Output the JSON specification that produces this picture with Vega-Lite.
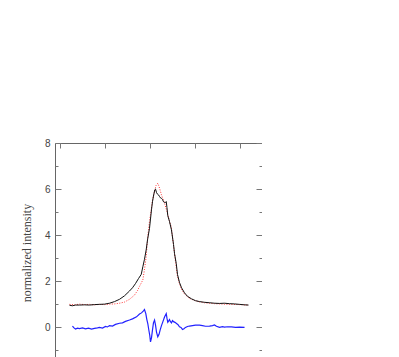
{
  "$schema": "https://vega.github.io/schema/vega-lite/v6.json",
  "autosize": "none",
  "padding": {"left": 55, "top": 143, "right": 0, "bottom": 0},
  "width": 207,
  "height": 219,
  "background": "white",
  "config": {
    "view": {"stroke": "#666", "strokeWidth": 1},
    "axis": {"grid": false, "domain": false, "tickColor": "#777", "labelColor": "#444", "labelFont": "Liberation Sans", "labelFontSize": 10, "titleFont": "Liberation Serif", "titleFontWeight": "normal", "titleFontSize": 12, "titleColor": "#444"}
  },
  "datasets": {
    "observed": [
      {"v": -889, "y": 0.96}, {"v": -856, "y": 0.94}, {"v": -822, "y": 0.97}, {"v": -778, "y": 0.97}, {"v": -722, "y": 0.98},
      {"v": -667, "y": 0.97}, {"v": -611, "y": 0.99}, {"v": -556, "y": 1.0}, {"v": -500, "y": 1.01}, {"v": -444, "y": 1.05},
      {"v": -389, "y": 1.12}, {"v": -333, "y": 1.22}, {"v": -278, "y": 1.37}, {"v": -222, "y": 1.58}, {"v": -189, "y": 1.72},
      {"v": -156, "y": 1.9}, {"v": -122, "y": 2.12}, {"v": -92, "y": 2.3}, {"v": -74, "y": 2.63}, {"v": -56, "y": 2.95},
      {"v": -37, "y": 3.36}, {"v": -22, "y": 3.8}, {"v": 0, "y": 4.3}, {"v": 11, "y": 4.7}, {"v": 22, "y": 5.1},
      {"v": 33, "y": 5.45}, {"v": 44, "y": 5.7}, {"v": 59, "y": 5.97}, {"v": 67, "y": 6.0}, {"v": 78, "y": 5.85},
      {"v": 89, "y": 5.78}, {"v": 100, "y": 5.75}, {"v": 111, "y": 5.68}, {"v": 122, "y": 5.62}, {"v": 133, "y": 5.6},
      {"v": 144, "y": 5.55}, {"v": 156, "y": 5.45}, {"v": 167, "y": 5.42}, {"v": 178, "y": 5.42}, {"v": 186, "y": 5.46},
      {"v": 194, "y": 5.2}, {"v": 203, "y": 4.85}, {"v": 222, "y": 4.6}, {"v": 244, "y": 4.23}, {"v": 267, "y": 3.6},
      {"v": 278, "y": 3.2}, {"v": 297, "y": 2.78}, {"v": 311, "y": 2.3}, {"v": 333, "y": 1.95}, {"v": 356, "y": 1.72},
      {"v": 389, "y": 1.5}, {"v": 422, "y": 1.35}, {"v": 467, "y": 1.24}, {"v": 511, "y": 1.16}, {"v": 556, "y": 1.12},
      {"v": 611, "y": 1.09}, {"v": 667, "y": 1.07}, {"v": 722, "y": 1.05}, {"v": 778, "y": 1.04}, {"v": 833, "y": 1.05},
      {"v": 889, "y": 1.03}, {"v": 944, "y": 1.02}, {"v": 1000, "y": 1.0}, {"v": 1056, "y": 0.98}, {"v": 1100, "y": 0.97}
    ],
    "model": [
      {"v": -889, "y": 1.0}, {"v": -833, "y": 0.98}, {"v": -778, "y": 1.01}, {"v": -722, "y": 0.99}, {"v": -667, "y": 1.0},
      {"v": -611, "y": 0.98}, {"v": -556, "y": 1.0}, {"v": -500, "y": 0.99}, {"v": -444, "y": 1.01}, {"v": -389, "y": 1.02},
      {"v": -333, "y": 1.05}, {"v": -278, "y": 1.1}, {"v": -222, "y": 1.22}, {"v": -167, "y": 1.4}, {"v": -133, "y": 1.6},
      {"v": -111, "y": 1.78}, {"v": -74, "y": 2.06}, {"v": -56, "y": 2.5}, {"v": -37, "y": 3.07}, {"v": -19, "y": 3.94},
      {"v": 0, "y": 4.6}, {"v": 19, "y": 5.1}, {"v": 33, "y": 5.5}, {"v": 56, "y": 5.9}, {"v": 72, "y": 6.15},
      {"v": 92, "y": 6.26}, {"v": 111, "y": 6.05}, {"v": 133, "y": 5.75}, {"v": 167, "y": 5.39}, {"v": 200, "y": 4.95},
      {"v": 222, "y": 4.6}, {"v": 241, "y": 4.37}, {"v": 256, "y": 3.9}, {"v": 278, "y": 3.22}, {"v": 294, "y": 2.7},
      {"v": 311, "y": 2.2}, {"v": 333, "y": 1.9}, {"v": 356, "y": 1.65}, {"v": 389, "y": 1.45}, {"v": 444, "y": 1.26},
      {"v": 500, "y": 1.17}, {"v": 556, "y": 1.11}, {"v": 611, "y": 1.07}, {"v": 667, "y": 1.05}, {"v": 722, "y": 1.03},
      {"v": 778, "y": 1.02}, {"v": 889, "y": 1.0}, {"v": 1000, "y": 0.99}, {"v": 1100, "y": 0.97}
    ],
    "residual": [
      {"v": -856, "y": 0.06}, {"v": -839, "y": -0.02}, {"v": -822, "y": -0.07}, {"v": -800, "y": -0.03}, {"v": -778, "y": -0.05},
      {"v": -744, "y": -0.02}, {"v": -711, "y": -0.06}, {"v": -678, "y": -0.03}, {"v": -644, "y": -0.07}, {"v": -611, "y": -0.04},
      {"v": -578, "y": -0.02}, {"v": -556, "y": 0.0}, {"v": -522, "y": -0.03}, {"v": -489, "y": 0.04}, {"v": -467, "y": 0.02},
      {"v": -444, "y": 0.08}, {"v": -411, "y": 0.06}, {"v": -378, "y": 0.13}, {"v": -333, "y": 0.18}, {"v": -300, "y": 0.2},
      {"v": -267, "y": 0.26}, {"v": -222, "y": 0.32}, {"v": -189, "y": 0.37}, {"v": -144, "y": 0.46}, {"v": -111, "y": 0.58},
      {"v": -89, "y": 0.63}, {"v": -67, "y": 0.72}, {"v": -56, "y": 0.78}, {"v": -41, "y": 0.6}, {"v": -30, "y": 0.35},
      {"v": -19, "y": 0.17}, {"v": -8, "y": -0.1}, {"v": 3, "y": -0.35}, {"v": 11, "y": -0.63}, {"v": 22, "y": -0.45},
      {"v": 33, "y": -0.12}, {"v": 44, "y": 0.2}, {"v": 56, "y": 0.32}, {"v": 67, "y": 0.1}, {"v": 78, "y": -0.2},
      {"v": 92, "y": -0.41}, {"v": 106, "y": -0.3}, {"v": 118, "y": -0.12}, {"v": 133, "y": 0.08}, {"v": 148, "y": 0.24},
      {"v": 167, "y": 0.45}, {"v": 186, "y": 0.6}, {"v": 194, "y": 0.4}, {"v": 203, "y": 0.22}, {"v": 214, "y": 0.28},
      {"v": 222, "y": 0.34}, {"v": 233, "y": 0.25}, {"v": 244, "y": 0.2}, {"v": 256, "y": 0.3}, {"v": 267, "y": 0.25},
      {"v": 283, "y": 0.22}, {"v": 300, "y": 0.17}, {"v": 317, "y": 0.12}, {"v": 333, "y": 0.03}, {"v": 350, "y": 0.0},
      {"v": 367, "y": -0.09}, {"v": 383, "y": -0.06}, {"v": 400, "y": 0.0}, {"v": 422, "y": 0.04}, {"v": 444, "y": 0.06},
      {"v": 478, "y": 0.08}, {"v": 511, "y": 0.1}, {"v": 556, "y": 0.1}, {"v": 589, "y": 0.08}, {"v": 622, "y": 0.05},
      {"v": 667, "y": 0.06}, {"v": 700, "y": 0.08}, {"v": 722, "y": 0.11}, {"v": 744, "y": 0.05}, {"v": 778, "y": 0.0},
      {"v": 811, "y": 0.03}, {"v": 833, "y": 0.01}, {"v": 867, "y": 0.03}, {"v": 911, "y": 0.02}, {"v": 956, "y": 0.0},
      {"v": 1000, "y": 0.01}, {"v": 1056, "y": 0.0}
    ]
  },
  "resolve": {"axis": {"x": "independent", "y": "independent"}},
  "layer": [
    {
      "data": {"name": "model"},
      "mark": {"type": "line", "color": "#ff3333", "strokeWidth": 1, "strokeDash": [1, 1.5], "clip": true},
      "encoding": {
        "x": {"field": "v", "type": "quantitative", "scale": {"domain": [-1050, 1250], "nice": false, "zero": false},
          "axis": {"orient": "top", "labels": false, "title": null, "values": [-1000, -500, 0, 500, 1000], "tickSize": -5}},
        "y": {"field": "y", "type": "quantitative", "scale": {"domain": [-1.5, 8], "nice": false, "zero": false},
          "axis": {"orient": "right", "labels": false, "title": null, "values": [-1, 0, 1, 2, 3, 4, 5, 6, 7, 8],
            "tickSize": {"condition": {"test": "datum.value % 2 === 0", "value": -6}, "value": -3}}}
      }
    },
    {
      "data": {"name": "observed"},
      "mark": {"type": "line", "color": "#111111", "strokeWidth": 1, "clip": true},
      "encoding": {
        "x": {"field": "v", "type": "quantitative", "scale": {"domain": [-1050, 1250], "nice": false, "zero": false},
          "axis": {"orient": "bottom", "title": null, "labels": false, "values": [-1000, -500, 0, 500, 1000], "tickSize": -5}},
        "y": {"field": "y", "type": "quantitative", "scale": {"domain": [-1.5, 8], "nice": false, "zero": false},
          "axis": {"orient": "left", "title": "normalized intensity", "values": [-1, 0, 1, 2, 3, 4, 5, 6, 7, 8],
            "labelExpr": "datum.value % 2 === 0 ? datum.label : ''",
            "tickSize": {"condition": {"test": "datum.value % 2 === 0", "value": -6}, "value": -3},
            "labelPadding": 11, "titlePadding": 11}}
      }
    },
    {
      "data": {"name": "residual"},
      "mark": {"type": "line", "color": "#2222ff", "strokeWidth": 1.2, "clip": true},
      "encoding": {
        "x": {"field": "v", "type": "quantitative", "axis": null},
        "y": {"field": "y", "type": "quantitative", "axis": null}
      }
    }
  ]
}
